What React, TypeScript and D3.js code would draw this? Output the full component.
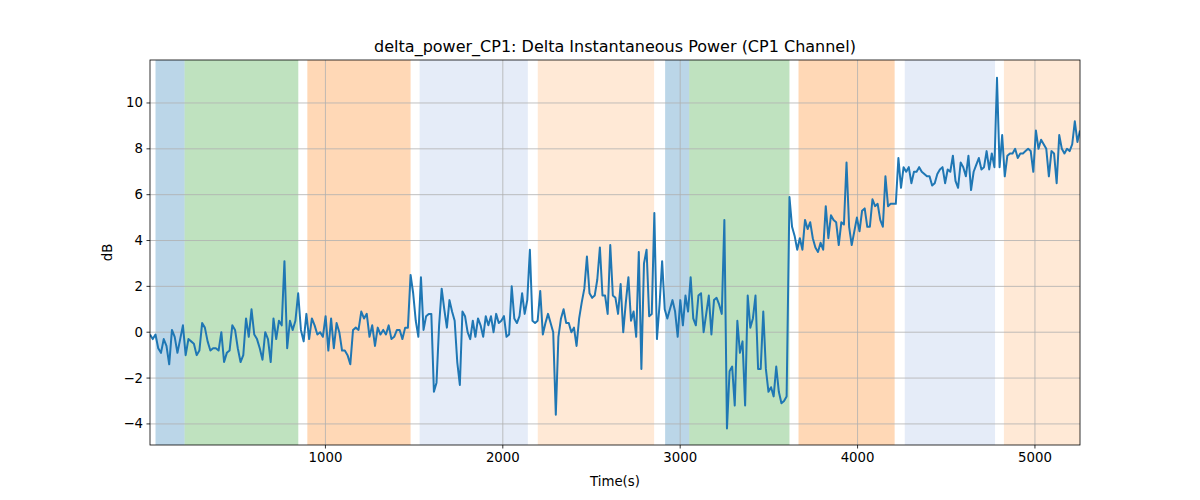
import React from "react";
import * as d3 from "d3";

const segA = [-0.1,-0.3,-0.1,-0.7,-0.9,-0.3,-0.6,-1.4,0.1,-0.2,-0.9,-0.3,0.3,
-1.0,-0.3,-0.4,-0.5,-1.0,-0.8,0.4,0.2,-0.4,-0.8,-0.7,-0.7,-0.8,0.0,-1.3,-0.9,-0.8,0.3,0.1,-0.7,-1.3,-1.0,0.6,-0.2,1.0,-0.1,-0.3,-0.7,-1.2,0.0,-0.3,-1.3,0.6,-0.3,0.5,0.3,3.1,-0.7,0.5,0.1,0.5,1.7,
0.1,-0.4,0.8,-0.3,0.6,0.3,-0.1,0.0,-0.2,0.7,-0.8,0.6,-0.7,0.4,0.0,-0.8,-0.8,-1.0,-1.4,0.1,0.2,0.1,0.9,0.6,0.8,-0.2,0.3,-0.6,0.2,-0.1,0.1,-0.1,0.3,-0.3,-0.2,0.1,0.1,-0.3,0.2,0.2];
const segB = [2.5,1.7,0.5,-0.2,2.4,0.1,0.7,0.8,0.8,-2.6,-2.2,0.3,1.9,1.0,0.2,1.4,0.9,0.5,-1.3,-2.3,0.9,0.7,0.0,-0.3,0.5,-0.2,0.6,0.3,-0.2,0.7,0.3,0.7,0.0,0.8,0.4,0.5,0.7,-0.2,-0.1,2.0,0.6,0.4,0.7,1.7,0.8,1.4,3.6,0.5,0.4,0.5,1.8,-0.1,0.4,0.8,0.4,0.0,-3.6,-0.2,0.6,1.0,0.4,0.4,0.0,0.2,-0.6,0.6,1.3,1.9,3.3,1.7,1.5,1.6,2.3,3.7,1.6,1.6,0.8,3.8,1.6,1.5,0.8,2.1,0.0,1.3,2.4,0.5,0.9,-0.2,3.5,-1.6,3.0,3.6,0.7,0.8,5.2,
-0.3,1.2,3.1,1.0,0.6,1.0,1.4,0.9,-0.2,1.4,0.3,1.6,0.9,2.4,0.6,0.3,1.6,1.7,0.0,0.8,1.6,-0.1,1.4,1.5,1.2,0.8,4.9,
-4.2,-1.7,-1.5,-3.2,0.5,-0.9,-0.4,-3.2,1.6,0.2,0.6,1.6,-1.6,-1.6,0.9,-1.6,-2.6,-2.4,-2.8,-1.5,-2.6,-3.1,-3.0,-2.8];
const segC = [5.9,4.6,4.2,3.6,4.1,3.6,4.9,4.5,4.8,4.1,3.7,3.5,3.9,3.6,5.5,4.1,5.1,4.9,4.8,3.8,4.8,4.7,7.4,4.6,3.8,4.4,5.0,4.4,5.3,5.4,4.6,4.6,5.8,5.5,5.6,4.9,4.6,6.8,5.5,5.6,5.6,5.6,
7.6,6.3,7.2,7.0,7.2,6.5,7.0,7.0,7.2,7.0,6.9,6.8,6.8,6.4,6.5,6.9,7.1,7.2,6.5,7.1,7.0,7.7,6.6,6.3,7.4,7.2,6.8,7.7,6.2,7.0,7.3,7.6,7.1,7.2,7.9,7.1,7.8,7.2,
11.1,7.2,8.6,6.8,7.7,7.8,7.8,8.0,7.6,7.8,7.8,7.9,8.0,7.9,7.0,8.8,8.0,8.4,8.2,8.0,6.8,7.9,7.8,6.5,8.6,8.0,7.8,8.0,7.9,8.2,9.2,8.3,8.8];
const segTimes = [[11, 1465], [1480, 3600], [3616, 5254]];
const bands = [
  [42, 206, "#1f77b4", 0.3], [206, 847, "#2ca02c", 0.3], [898, 1480, "#ff7f0e", 0.3],
  [1531, 2141, "#4f7fd0", 0.15], [2197, 2853, "#ff7f0e", 0.17], [2915, 3051, "#1f77b4", 0.3],
  [3051, 3616, "#2ca02c", 0.3], [3667, 4209, "#ff7f0e", 0.3], [4266, 4775, "#4f7fd0", 0.15],
  [4825, 5300, "#ff7f0e", 0.17],
] as const;
const xTicks = [1000, 2000, 3000, 4000, 5000];
const yTicks = [-4, -2, 0, 2, 4, 6, 8, 10];

export default function App() {
  const L = 150, R = 1080, T = 60, B = 445;
  const x = d3.scaleLinear().domain([11, 5254]).range([L, R]);
  const y = d3.scaleLinear().domain([-4.92, 11.875]).range([B, T]);
  const pts: [number, number][] = [];
  [segA, segB, segC].forEach((s, i) => {
    const t = d3.scaleLinear().domain([0, s.length - 1]).range(segTimes[i]);
    s.forEach((v, j) => pts.push([t(j), v]));
  });
  const line = d3.line<[number, number]>().x(d => x(d[0])).y(d => y(d[1]));
  const font = "DejaVu Sans, sans-serif";
  return (
    <svg width={1200} height={500} style={{ position: "absolute", left: 0, top: 0 }} fontFamily={font}>
      <rect width={1200} height={500} fill="#fff" />
      <defs><clipPath id="c"><rect x={L} y={T} width={R - L} height={B - T} /></clipPath></defs>
      <g clipPath="url(#c)">
        {bands.map((b, i) => (
          <rect key={i} x={x(b[0])} y={T} width={x(b[1]) - x(b[0])} height={B - T} fill={b[2]} fillOpacity={b[3]} />
        ))}
        {xTicks.map(t => <line key={t} x1={x(t)} x2={x(t)} y1={T} y2={B} stroke="#b0b0b0" strokeWidth={0.8} />)}
        {yTicks.map(t => <line key={t} y1={y(t)} y2={y(t)} x1={L} x2={R} stroke="#b0b0b0" strokeWidth={0.8} />)}
        <path d={line(pts) ?? ""} fill="none" stroke="#1f77b4" strokeWidth={2} strokeLinejoin="round" />
      </g>
      <rect x={L} y={T} width={R - L} height={B - T} fill="none" stroke="#000" strokeWidth={0.8} />
      {xTicks.map(t => (
        <g key={t}>
          <line x1={x(t)} x2={x(t)} y1={B} y2={B + 3.5} stroke="#000" strokeWidth={0.8} />
          <text x={x(t)} y={B + 17} fontSize={13.3} textAnchor="middle">{t}</text>
        </g>
      ))}
      {yTicks.map(t => (
        <g key={t}>
          <line x1={L - 3.5} x2={L} y1={y(t)} y2={y(t)} stroke="#000" strokeWidth={0.8} />
          <text x={L - 7} y={y(t) + 4.5} fontSize={13.3} textAnchor="end">{t === 0 ? "0" : t < 0 ? "\u2212" + -t : t}</text>
        </g>
      ))}
      <text x={(L + R) / 2} y={486} fontSize={13.3} textAnchor="middle">Time(s)</text>
      <text transform={`translate(112,${(T + B) / 2}) rotate(-90)`} fontSize={13.3} textAnchor="middle">dB</text>
      <text x={(L + R) / 2} y={52} fontSize={16} textAnchor="middle">delta_power_CP1: Delta Instantaneous Power (CP1 Channel)</text>
    </svg>
  );
}
